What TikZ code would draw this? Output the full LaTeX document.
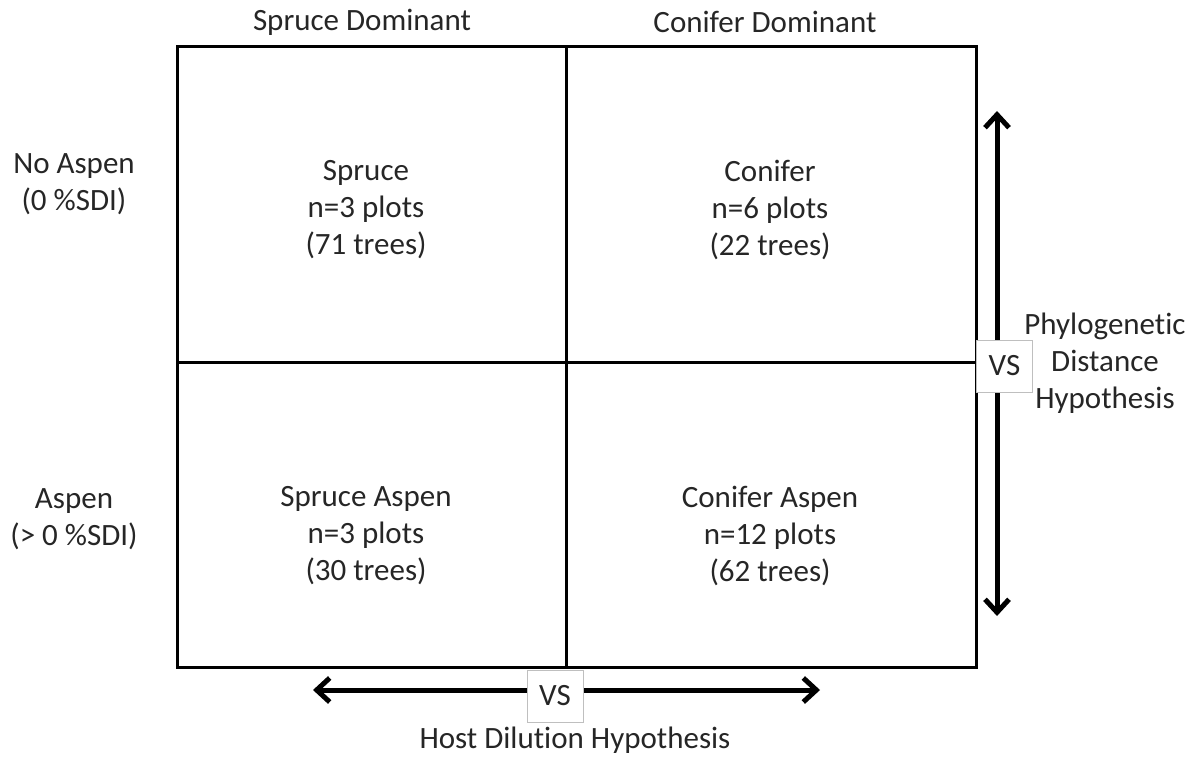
\documentclass[tikz,border=0pt]{standalone}
\usepackage{fontspec}
\setmainfont{Carlito}[Ligatures={NoCommon}]
\usetikzlibrary{arrows.meta}
\begin{document}
\begin{tikzpicture}[x=1pt,y=-1pt,
  lbl/.style={font=\fontsize{31}{37}\selectfont, align=center, text=black!85, inner sep=0pt},
  vsbox/.style={draw=black!25, line width=1pt, fill=white, minimum width=56pt, minimum height=52pt, inner sep=0pt, font=\fontsize{31}{37}\selectfont, text=black!85},
  dbl/.style={line width=5pt, {Straight Barb[length=13pt,width=24pt]}-{Straight Barb[length=13pt,width=24pt]}}]
\useasboundingbox (0,0) rectangle (1198,757);
% grid
\coordinate (tl) at (177,47);
\coordinate (br) at (976,667);
\coordinate (tm) at (566,47);
\coordinate (bm) at (566,667);
\coordinate (ml) at (177,362);
\coordinate (mr) at (976,362);
\draw[line width=3pt] (tl) rectangle (br);
\draw[line width=3pt] (tm) -- (bm);
\draw[line width=3pt] (ml) -- (mr);
% headers
\node[lbl] (h1) at (362,22) {Spruce Dominant};
\node[lbl] (h2) at (765,22) {Conifer Dominant};
\node[lbl] (r1) at (74,184) {No Aspen\\(0 \%SDI)};
\node[lbl] (r2) at (74,519) {Aspen\\(> 0 \%SDI)};
% cells
\node[lbl] (c1) at (366,210) {Spruce\\n=3 plots\\(71 trees)};
\node[lbl] (c2) at (770,210) {Conifer\\n=6 plots\\(22 trees)};
\node[lbl] (c3) at (366,536) {Spruce Aspen\\n=3 plots\\(30 trees)};
\node[lbl] (c4) at (770,536) {Conifer Aspen\\n=12 plots\\(62 trees)};
% arrows
\coordinate (vt) at (997,111);
\coordinate (vb) at (997,616);
\draw[dbl] (vt) -- (vb);
\coordinate (hl) at (313,690);
\coordinate (hr) at (820,690);
\draw[dbl] (hl) -- (hr);
\node[vsbox] (vs1) at (1004.5,366) {VS};
\node[vsbox] (vs2) at (555,696) {VS};
\node[lbl] (ph) at (1105,363) {Phylogenetic\\Distance\\Hypothesis};
\node[lbl] (hd) at (575,740) {Host Dilution Hypothesis};
\end{tikzpicture}
\end{document}
